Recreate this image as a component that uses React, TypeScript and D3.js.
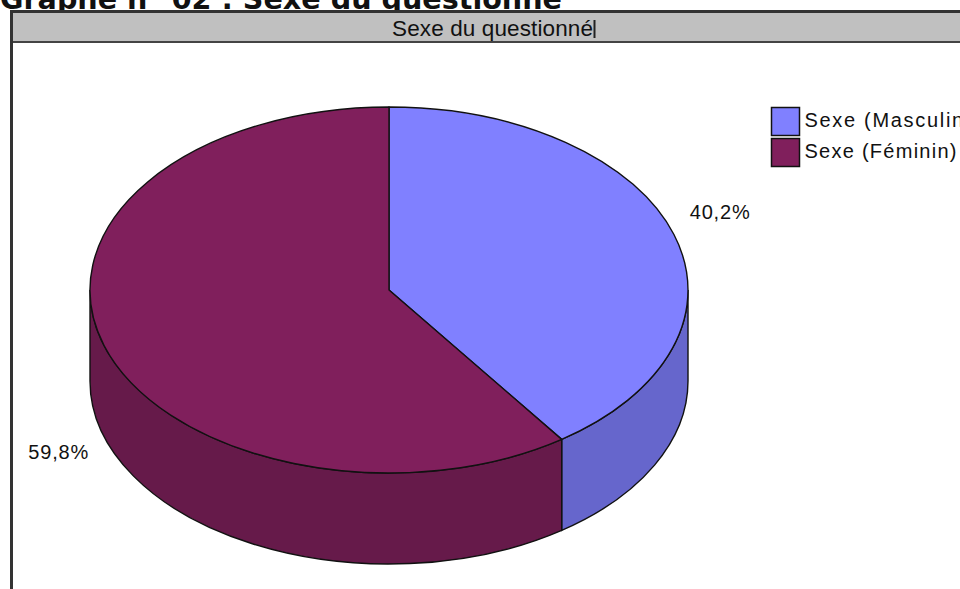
import React from "react";
import * as d3 from "d3";

const categories = ["Sexe (Masculin)", "Sexe (Féminin)"];
const values = [40.2, 59.8];
const labels = ["40,2%", "59,8%"];
const topColors = ["#8080ff", "#801f5c"];
const sideColors = ["#6666cc", "#661a4a"];
const chartTitle = "Graphe n° 02 : Sexe du questionné";
const panelTitle = "Sexe du questionné";

const W = 960;
const H = 589;
const cx = 389;
const cy = 290;
const rx = 299;
const ry = 183;
const depth = 91;

function pt(a: number, dy = 0, kx = rx, ky = ry): [number, number] {
  return [cx + kx * Math.sin(a), cy - ky * Math.cos(a) + dy];
}

export default function App() {
  const pie = d3.pie<number>().sort(null).startAngle(0).endAngle(2 * Math.PI);
  const arcs = pie(values);
  const topColor = d3.scaleOrdinal<string, string>().domain(categories).range(topColors);
  const sideColor = d3.scaleOrdinal<string, string>().domain(categories).range(sideColors);

  const topPath = (a0: number, a1: number) => {
    const p = d3.path();
    const [x0, y0] = pt(a0);
    const [x1, y1] = pt(a1);
    p.moveTo(cx, cy);
    p.lineTo(x0, y0);
    const large = a1 - a0 > Math.PI ? 1 : 0;
    return `${p.toString()}A${rx},${ry} 0 ${large} 1 ${x1},${y1}Z`;
  };

  const sidePath = (a0: number, a1: number) => {
    const s = Math.max(a0, Math.PI / 2);
    const e = Math.min(a1, (3 * Math.PI) / 2);
    if (e <= s) return null;
    const [x0, y0] = pt(s);
    const [x1, y1] = pt(e);
    const [bx1, by1] = pt(e, depth);
    const [bx0, by0] = pt(s, depth);
    return `M${x0},${y0}A${rx},${ry} 0 0 1 ${x1},${y1}L${bx1},${by1}A${rx},${ry} 0 0 0 ${bx0},${by0}Z`;
  };

  return (
    <svg width={W} height={H} style={{ position: "absolute", left: 0, top: 0, background: "#fff" }}>
      <text x={0} y={9} fontFamily="DejaVu Sans, Verdana, sans-serif" fontWeight="bold" fontSize={28}
        textLength={562} lengthAdjust="spacingAndGlyphs" fill="#111">{chartTitle}</text>
      <rect x={11.5} y={11.5} width={1000} height={700} fill="#fff" stroke="#333" strokeWidth={3} />
      <rect x={13} y={13} width={1000} height={28} fill="#c0c0c0" />
      <line x1={13} x2={1000} y1={42} y2={42} stroke="#444" strokeWidth={2} />
      <text x={392} y={36} fontFamily="Liberation Sans, Arial, sans-serif" fontSize={22.5}
        textLength={201} lengthAdjust="spacing" fill="#111">{panelTitle}</text>
      <line x1={594.5} x2={594.5} y1={20} y2={38} stroke="#222" strokeWidth={2} />

      {arcs.map((a, i) => {
        const d = sidePath(a.startAngle, a.endAngle);
        return d ? (
          <path key={"s" + i} d={d} fill={sideColor(categories[i])} stroke="#111" strokeWidth={1.4} />
        ) : null;
      })}
      {arcs.map((a, i) => (
        <path key={"t" + i} d={topPath(a.startAngle, a.endAngle)} fill={topColor(categories[i])}
          stroke="#111" strokeWidth={1.4} strokeLinejoin="round" />
      ))}
      {arcs.map((a, i) => {
        const mid = (a.startAngle + a.endAngle) / 2;
        const front = Math.cos(mid) < 0;
        const [lx, ly] = pt(mid, front ? depth - 4 : 0, rx + 48, ry + 70);
        return (
          <text key={"l" + i} x={lx} y={ly} textAnchor="middle" dominantBaseline="middle"
            fontFamily="Liberation Sans, Arial, sans-serif" fontSize={20} textLength={60}
            lengthAdjust="spacing" fill="#111">{labels[i]}</text>
        );
      })}

      {categories.map((c, i) => (
        <g key={"g" + i} transform={`translate(771.5,${107.5 + i * 31})`}>
          <rect width={28} height={28} fill={topColor(c)} stroke="#111" strokeWidth={1.5} />
          <text x={33} y={19} fontFamily="Liberation Sans, Arial, sans-serif" fontSize={20}
            textLength={i === 1 ? 152 : 167} lengthAdjust="spacing" fill="#111">{c}</text>
        </g>
      ))}
    </svg>
  );
}
